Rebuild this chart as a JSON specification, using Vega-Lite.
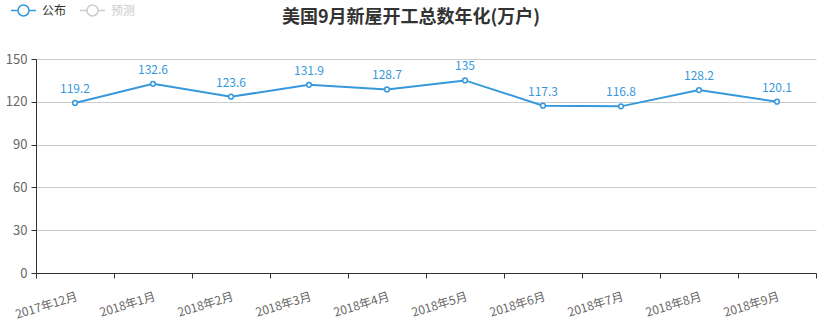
{
  "$schema": "https://vega.github.io/schema/vega-lite/v6.json",
  "width": 780,
  "height": 214,
  "autosize": {"type": "none"},
  "padding": {"left": 36, "top": 59, "right": 8, "bottom": 54},
  "background": "white",
  "config": {
    "font": "Noto Sans CJK SC",
    "view": {"stroke": null}
  },
  "title": {
    "text": "美国9月新屋开工总数年化(万户)",
    "fontSize": 18,
    "fontWeight": "bold",
    "color": "#333333",
    "anchor": "middle",
    "dx": -15,
    "offset": -30
  },
  "data": {
    "values": [
      {"month": "2017年12月", "value": 119.2, "series": "公布"},
      {"month": "2018年1月", "value": 132.6, "series": "公布"},
      {"month": "2018年2月", "value": 123.6, "series": "公布"},
      {"month": "2018年3月", "value": 131.9, "series": "公布"},
      {"month": "2018年4月", "value": 128.7, "series": "公布"},
      {"month": "2018年5月", "value": 135, "series": "公布"},
      {"month": "2018年6月", "value": 117.3, "series": "公布"},
      {"month": "2018年7月", "value": 116.8, "series": "公布"},
      {"month": "2018年8月", "value": 128.2, "series": "公布"},
      {"month": "2018年9月", "value": 120.1, "series": "公布"}
    ]
  },
  "encoding": {
    "x": {
      "field": "month",
      "type": "ordinal",
      "sort": null,
      "scale": {"paddingInner": 0, "paddingOuter": 0},
      "axis": {
        "title": null,
        "labelAngle": -17,
        "labelAlign": "right",
        "labelBaseline": "top",
        "labelColor": "#666666",
        "labelFontSize": 12,
        "labelPadding": 13,
        "domainColor": "#333333",
        "tickColor": "#333333",
        "tickSize": 5,
        "tickBand": "extent",
        "grid": false
      }
    },
    "y": {
      "field": "value",
      "type": "quantitative",
      "scale": {"domain": [0, 150], "nice": false},
      "axis": {
        "title": null,
        "values": [0, 30, 60, 90, 120, 150],
        "labelColor": "#666666",
        "labelFontSize": 13,
        "labelPadding": 4,
        "domainColor": "#333333",
        "tickColor": "#333333",
        "tickSize": 5,
        "gridColor": "#cccccc",
        "gridWidth": 1
      }
    }
  },
  "layer": [
    {
      "mark": {"type": "line", "strokeWidth": 2},
      "encoding": {
        "color": {
          "field": "series",
          "type": "nominal",
          "scale": {"domain": ["公布", "预测"], "range": ["#3598dc", "#cccccc"]},
          "legend": {
            "title": null,
            "orient": "none",
            "legendX": -26,
            "legendY": -62,
            "direction": "horizontal",
            "symbolType": "M-1,0L-0.44,0M0.44,0L1,0M0.44,0A0.44,0.44,0,1,1,-0.44,0A0.44,0.44,0,1,1,0.44,0",
            "symbolSize": 625,
            "symbolStrokeWidth": 1.5,
            "symbolFillColor": "#ffffff",
            "labelFontSize": 12,
            "labelOffset": 5,
            "columnPadding": 10,
            "encode": {
              "labels": {"update": {"fill": {"signal": "datum.value === '预测' ? '#cccccc' : '#333333'"}}}
            }
          }
        }
      }
    },
    {
      "mark": {"type": "point", "shape": "circle", "filled": true, "fill": "#ffffff", "stroke": "#3598dc", "strokeWidth": 1.5, "size": 22, "opacity": 1}
    },
    {
      "mark": {"type": "text", "dy": -14, "fontSize": 12, "color": "#3598dc"},
      "encoding": {"text": {"field": "value", "type": "quantitative"}}
    }
  ]
}
